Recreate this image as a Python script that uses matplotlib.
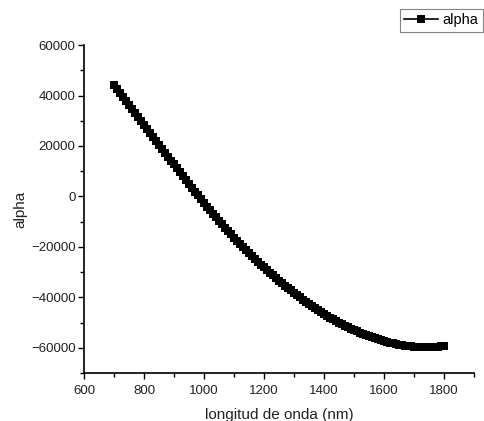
import matplotlib
matplotlib.use('Agg')
import matplotlib.pyplot as plt
from matplotlib.ticker import MultipleLocator
import numpy as np

plt.rcParams['font.family'] = ['Liberation Sans', 'DejaVu Sans']

# wavelength (nm), 10 nm steps from 700 to 1800
wavelength = np.arange(700, 1801, 10)

# alpha values
alpha = [
    44200, 42620, 41040, 39460, 37880, 36300, 34720, 33140, 31560, 29980,
    28400, 26820, 25240, 23660, 22090, 20510, 18940, 17360, 15790, 14220,
    12650, 11090, 9530, 7990, 6450, 4930, 3410, 1910, 410, -1080,
    -2550, -4010, -5450, -6870, -8280, -9660, -11030, -12370, -13700, -15010,
    -16300, -17570, -18820, -20050, -21270, -22460, -23640, -24790, -25930, -27050,
    -28150, -29230, -30300, -31340, -32370, -33390, -34380, -35360, -36330, -37270,
    -38200, -39110, -40010, -40880, -41740, -42590, -43410, -44220, -45020, -45790,
    -46550, -47290, -48010, -48710, -49380, -50040, -50670, -51290, -51880, -52450,
    -53000, -53530, -54040, -54530, -54990, -55440, -55860, -56270, -56650, -57010,
    -57350, -57670, -57970, -58250, -58500, -58740, -58950, -59150, -59320, -59470,
    -59600, -59700, -59780, -59820, -59820, -59800, -59740, -59660, -59540, -59380,
    -59200,
]

fig = plt.figure(figsize=(4.85, 4.21), dpi=100)
ax = fig.add_axes([0.1732, 0.114, 0.804, 0.779])

line, = ax.plot(wavelength, alpha, color='black', lw=1.2, marker='s',
                markersize=5.2, markeredgewidth=0, label='alpha')

ax.set_xlim(600, 1900)
ax.set_ylim(-70000, 60000)
ax.xaxis.set_major_locator(MultipleLocator(200))
ax.xaxis.set_minor_locator(MultipleLocator(100))
ax.yaxis.set_major_locator(MultipleLocator(20000))
ax.yaxis.set_minor_locator(MultipleLocator(10000))

for s in ['top', 'right']:
    ax.spines[s].set_visible(False)
for s in ['left', 'bottom']:
    ax.spines[s].set_linewidth(1.2)

ax.tick_params(which='major', direction='out', length=4.5, width=1.0,
               labelsize=9.5, labelcolor='#222222')
ax.tick_params(axis='y', which='major', pad=1.5)
ax.tick_params(axis='x', which='major', pad=4)
ax.tick_params(which='minor', direction='out', length=3, width=1.0)

ax.set_xlabel('longitud de onda (nm)', fontsize=11, color='#222222', labelpad=8)
ax.set_ylabel('alpha', fontsize=11, color='#222222', labelpad=2.5)

leg = fig.legend(handles=[line], loc='upper right', bbox_to_anchor=(0.996, 0.979),
                 borderaxespad=0, fontsize=10.5, frameon=True, fancybox=False,
                 handlelength=2.3, handletextpad=0.35, borderpad=0.3,
                 markerscale=1.0)
leg.get_frame().set_edgecolor('#666666')
leg.get_frame().set_linewidth(0.8)

fig.savefig('out.png', dpi=100)
